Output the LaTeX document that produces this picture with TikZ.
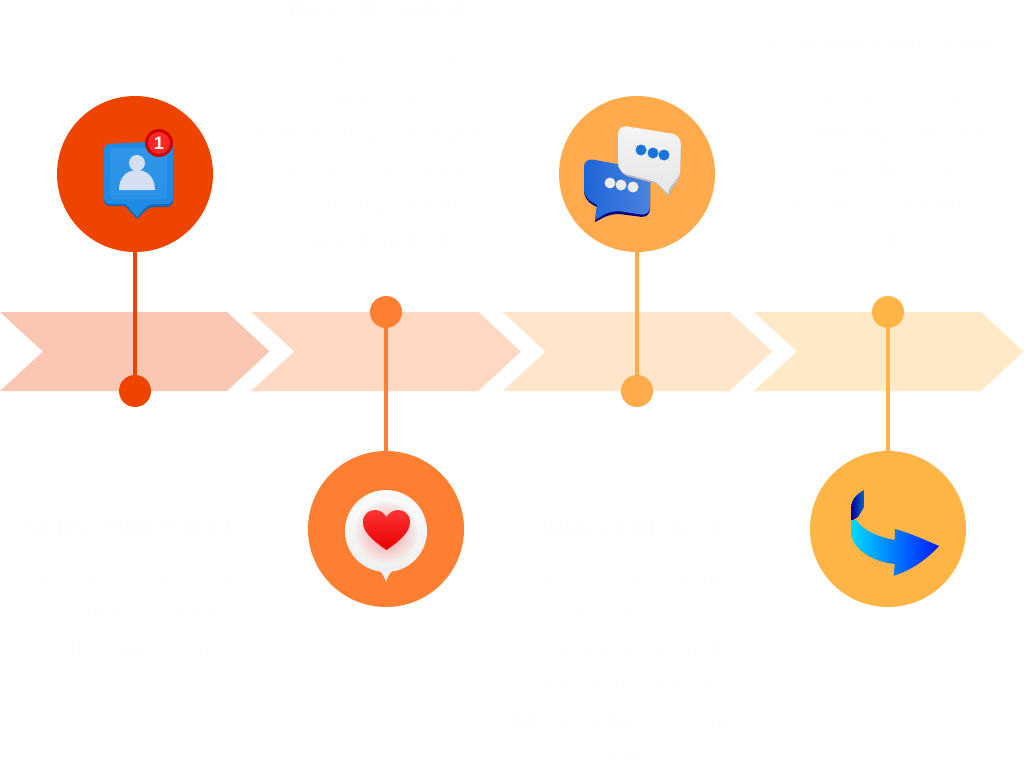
\documentclass[tikz,border=0pt]{standalone}
\usepackage{fontspec}
\setmainfont{Liberation Sans}
\usepackage{xcolor}
\usepackage{tikz}
\usetikzlibrary{positioning}
\definecolor{rojobot}{RGB}{238,68,0}
\definecolor{naranjabot}{RGB}{255,127,50}
\definecolor{ambarbot}{RGB}{255,170,76}
\definecolor{orobot}{RGB}{255,181,69}
\definecolor{palido}{RGB}{254,254,252}
\definecolor{azulicono}{RGB}{30,140,230}
\definecolor{azulchat}{RGB}{30,100,215}
\definecolor{burbuja}{RGB}{243,241,238}
\definecolor{halo}{RGB}{250,150,160}
\definecolor{persona}{RGB}{212,224,242}
\begin{document}
\begin{tikzpicture}[x=1pt, y=-1pt,
      hub/.style={circle, fill=#1, minimum size=156pt, inner sep=0pt},
      dot/.style={circle, fill=#1, minimum size=32pt, inner sep=0pt},
      head/.style={anchor=base, text=palido, font=\bfseries\fontsize{23.5}{28}\selectfont},
      body/.style={anchor=north, inner sep=0pt, align=center, text=palido,
                   font=\fontsize{26}{35.5}\selectfont}]
    \useasboundingbox (0,0) rectangle (1024,768);
    \foreach \i/\x/\col in {1/0/rojobot, 2/251.3/naranjabot, 3/502.6/ambarbot, 4/753.9/orobot} {
      \fill[\col!30] (\x,312) -- ++(227,0) -- ++(42.5,39.5) -- ++(-42.5,39.5)
        -- ++(-227,0) -- ++(43,-39.5) -- cycle;
    }
    \foreach \i/\x/\yc/\yd/\col in {1/135/174/391/rojobot, 2/386/529/312/naranjabot,
                                    3/637/174/391/ambarbot, 4/888/529/312/orobot} {
      \node[hub=\col] (C\i) at (\x,\yc) {};
      \node[dot=\col] (D\i) at (\x,\yd) {};
      \draw[\col, line width=4.5pt] (C\i) -- (D\i);
    }
    % perfil
    \fill[azulicono!75!black] (104,146) [rounded corners=6] -- (173,143) -- (173,207) -- (149,207)
      [sharp corners] -- (137,219) -- (125,206) [rounded corners=6] -- (104,206) -- cycle;
    \fill[azulicono] (104,144) [rounded corners=6]
      -- (173,141) -- (173,204) -- (148,204) [sharp corners] -- (137,217) -- (126,204)
      [rounded corners=6] -- (104,204) -- cycle;
    \shade[top color=azulicono!92!white, bottom color=azulicono!95!white, rounded corners=4]
      (110,148) rectangle (167,199);
    \fill[persona] (137,163) circle[radius=8];
    \fill[persona] (119,190) .. controls (119,176) and (128,170) .. (137,170)
      .. controls (146,170) and (155,176) .. (155,190) -- cycle;
    \node[circle, fill=red!80!black, minimum size=28pt, inner sep=0pt] (B1) at (159,143) {};
    \node[circle, fill=red!85!white, minimum size=22pt, inner sep=0pt, text=white,
          font=\bfseries\fontsize{18}{18}\selectfont] (B2) at (159,143) {1};
    % corazon
    \shade[top color=gray!3, bottom color=gray!12] (386,531) circle[radius=41];
    \fill[gray!12] (374,568) .. controls (381,570) and (384,575) .. (386,582)
      .. controls (388,575) and (391,570) .. (398,568) -- cycle;
    \shade[inner color=halo, outer color=burbuja] (386,533) circle[radius=31];
    \shade[top color=red!80!white, bottom color=red!90!black]
      (386.5,550) .. controls (372,540) and (363,532) .. (363,522)
      .. controls (363,514) and (369,510) .. (375,510)
      .. controls (380,510) and (384,513) .. (386.5,517)
      .. controls (389,513) and (393,510) .. (398,510)
      .. controls (404,510) and (410,514) .. (410,522)
      .. controls (410,532) and (401,540) .. (386.5,550) -- cycle;
    % chat
    \fill[blue!50!black] (584,160) [rounded corners=9] -- (650,172) -- (650,218) -- (612,213)
      [sharp corners] -- (595,222) -- (597,207) [rounded corners=9] -- (584,200) -- cycle;
    \shade[left color=azulchat, right color=azulchat!80!white] (584,158) [rounded corners=9]
      -- (650,170) -- (650,216) -- (612,210) [sharp corners] -- (595,220) -- (597,205)
      [rounded corners=9] -- (584,198) -- cycle;
    \foreach \px/\py in {610/183, 621/185, 633/187} {
      \fill[gray!15] (\px,\py) circle[radius=5.5];
    }
    \fill[gray!55] (620,127) [rounded corners=9] -- (681,137) -- (680,182) -- (671,186)
      [sharp corners] -- (669,197) -- (657,184) [rounded corners=9] -- (619,174) -- cycle;
    \shade[top color=gray!8, bottom color=gray!20] (618,125) [rounded corners=9]
      -- (681,135) -- (680,180) -- (669,184) [sharp corners] -- (668,194) -- (656,182)
      [rounded corners=9] -- (618,172) -- cycle;
    \foreach \px/\py in {641/150, 653/153, 664/155} {
      \fill[azulchat!90!cyan] (\px,\py) circle[radius=5.5];
    }
    % flecha
    \shade[left color=blue!60!black, right color=cyan!50!blue!80!black] (864,490)
      .. controls (855,495) and (851,501) .. (851.3,507) -- (851.3,520) -- (853,520)
      -- (858,517) -- (864,507) -- cycle;
    \shade[left color=cyan!85!blue, right color=blue!90!cyan] (851.3,520) -- (851.3,536)
      .. controls (856,552) and (875,562) .. (894.7,564) -- (893.7,575.7)
      .. controls (912,570) and (927,559) .. (939,546)
      .. controls (925,540) and (910,533) .. (895,529) -- (894.7,540)
      .. controls (878,537) and (862,530) .. (856.3,520) -- cycle;
    % textos
    \node[head] (T1) at (130,536.7) {SUBSCRIBER BOT};
    \node[body] (P1) at (130,568) {You create a group\\and fill it with the\\subscriber bot};
    \node[head] (T2) at (378,18) {REACTION BOT};
    \node[body] (P2) at (378,52) {You send messages\\and receive\\interactions on them,\\increasing your\\credibility with the\\reaction bot};
    \node[head] (T3) at (631,536.7) {WELCOME BOT};
    \node[body] (P3) at (631,567) {You start receiving\\more leads and\\create your first\\connection with them\\through the welcome\\bot};
    \node[head] (T4) at (882,53) {FORWARDING BOT};
    \node[body] (P4) at (882,87) {You grow your\\community and start\\expanding your\\empire with the\\forwarding bot};
  \end{tikzpicture}
\end{document}
